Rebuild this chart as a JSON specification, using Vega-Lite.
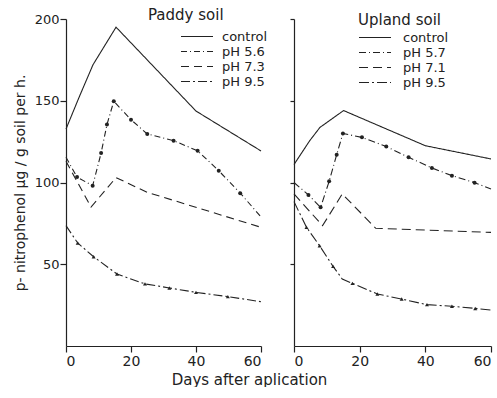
{
  "$schema": "https://vega.github.io/schema/vega-lite/v6.json",
  "autosize": {"type": "pad"},
  "padding": {"left": 13, "top": 8, "right": 0, "bottom": 0},
  "background": "white",
  "bounds": "flush",
  "spacing": 33,
  "config": {
    "view": {"stroke": null},
    "font": "DejaVu Sans",
    "axis": {
      "grid": false,
      "domainColor": "#222",
      "tickColor": "#222",
      "labelColor": "#222",
      "titleColor": "#222",
      "labelFont": "DejaVu Sans",
      "titleFont": "DejaVu Sans",
      "labelFontSize": 13,
      "titleFontWeight": "normal",
      "tickSize": 6,
      "domainWidth": 1.2,
      "tickWidth": 1.2
    },
    "legend": {
      "labelFont": "DejaVu Sans",
      "labelFontSize": 13,
      "labelColor": "#222",
      "clipHeight": 15,
      "symbolSize": 1024,
      "symbolStrokeWidth": 1.2,
      "symbolStrokeColor": "#222",
      "rowPadding": 0
    },
    "title": {"font": "DejaVu Sans", "fontSize": 15, "fontWeight": "normal", "color": "#222"}
  },
  "data": {
    "values": [
      {"soil": "Paddy", "series": "control", "day": 0, "value": 132.7},
      {"soil": "Paddy", "series": "control", "day": 4, "value": 152},
      {"soil": "Paddy", "series": "control", "day": 8.3, "value": 172},
      {"soil": "Paddy", "series": "control", "day": 15.4, "value": 195},
      {"soil": "Paddy", "series": "control", "day": 40, "value": 143.7},
      {"soil": "Paddy", "series": "control", "day": 60, "value": 119.3},
      {"soil": "Paddy", "series": "pH 5.6", "day": 0, "value": 115.4},
      {"soil": "Paddy", "series": "pH 5.6", "day": 3.4, "value": 103.3},
      {"soil": "Paddy", "series": "pH 5.6", "day": 8.2, "value": 98},
      {"soil": "Paddy", "series": "pH 5.6", "day": 10.8, "value": 118},
      {"soil": "Paddy", "series": "pH 5.6", "day": 12.6, "value": 135.4},
      {"soil": "Paddy", "series": "pH 5.6", "day": 14.7, "value": 149.7},
      {"soil": "Paddy", "series": "pH 5.6", "day": 20, "value": 138.4},
      {"soil": "Paddy", "series": "pH 5.6", "day": 25, "value": 129.7},
      {"soil": "Paddy", "series": "pH 5.6", "day": 33.1, "value": 125.6},
      {"soil": "Paddy", "series": "pH 5.6", "day": 40.5, "value": 119.4},
      {"soil": "Paddy", "series": "pH 5.6", "day": 47, "value": 107.2},
      {"soil": "Paddy", "series": "pH 5.6", "day": 53.6, "value": 93.5},
      {"soil": "Paddy", "series": "pH 5.6", "day": 60, "value": 79},
      {"soil": "Paddy", "series": "pH 7.3", "day": 0, "value": 113},
      {"soil": "Paddy", "series": "pH 7.3", "day": 7.7, "value": 85},
      {"soil": "Paddy", "series": "pH 7.3", "day": 15.4, "value": 103},
      {"soil": "Paddy", "series": "pH 7.3", "day": 25, "value": 94},
      {"soil": "Paddy", "series": "pH 7.3", "day": 60, "value": 72.6},
      {"soil": "Paddy", "series": "pH 9.5", "day": 0, "value": 73.6},
      {"soil": "Paddy", "series": "pH 9.5", "day": 3.6, "value": 63},
      {"soil": "Paddy", "series": "pH 9.5", "day": 8.5, "value": 54.6},
      {"soil": "Paddy", "series": "pH 9.5", "day": 15.7, "value": 44},
      {"soil": "Paddy", "series": "pH 9.5", "day": 24.3, "value": 38},
      {"soil": "Paddy", "series": "pH 9.5", "day": 31.8, "value": 35.5},
      {"soil": "Paddy", "series": "pH 9.5", "day": 40, "value": 32.8},
      {"soil": "Paddy", "series": "pH 9.5", "day": 49.8, "value": 30.2},
      {"soil": "Paddy", "series": "pH 9.5", "day": 60, "value": 27.1},
      {"soil": "Upland", "series": "control", "day": 0, "value": 111},
      {"soil": "Upland", "series": "control", "day": 4.8, "value": 125.6},
      {"soil": "Upland", "series": "control", "day": 7.9, "value": 133.7},
      {"soil": "Upland", "series": "control", "day": 15.1, "value": 144},
      {"soil": "Upland", "series": "control", "day": 40, "value": 122.5},
      {"soil": "Upland", "series": "control", "day": 60, "value": 114.4},
      {"soil": "Upland", "series": "pH 5.7", "day": 0, "value": 100},
      {"soil": "Upland", "series": "pH 5.7", "day": 4.4, "value": 92.4},
      {"soil": "Upland", "series": "pH 5.7", "day": 8.1, "value": 84.8},
      {"soil": "Upland", "series": "pH 5.7", "day": 10.7, "value": 100.7},
      {"soil": "Upland", "series": "pH 5.7", "day": 13, "value": 117},
      {"soil": "Upland", "series": "pH 5.7", "day": 14.9, "value": 130},
      {"soil": "Upland", "series": "pH 5.7", "day": 20.7, "value": 127.6},
      {"soil": "Upland", "series": "pH 5.7", "day": 28.1, "value": 122},
      {"soil": "Upland", "series": "pH 5.7", "day": 34.9, "value": 115.4},
      {"soil": "Upland", "series": "pH 5.7", "day": 42, "value": 108.9},
      {"soil": "Upland", "series": "pH 5.7", "day": 48.1, "value": 104.2},
      {"soil": "Upland", "series": "pH 5.7", "day": 55, "value": 99.9},
      {"soil": "Upland", "series": "pH 5.7", "day": 60, "value": 96},
      {"soil": "Upland", "series": "pH 7.1", "day": 0, "value": 93},
      {"soil": "Upland", "series": "pH 7.1", "day": 8.7, "value": 73.6},
      {"soil": "Upland", "series": "pH 7.1", "day": 14.7, "value": 93},
      {"soil": "Upland", "series": "pH 7.1", "day": 24.9, "value": 72},
      {"soil": "Upland", "series": "pH 7.1", "day": 60, "value": 69.5},
      {"soil": "Upland", "series": "pH 9.5", "day": 0, "value": 88.3},
      {"soil": "Upland", "series": "pH 9.5", "day": 3.8, "value": 72.6},
      {"soil": "Upland", "series": "pH 9.5", "day": 7.8, "value": 61.3},
      {"soil": "Upland", "series": "pH 9.5", "day": 11.9, "value": 48.7},
      {"soil": "Upland", "series": "pH 9.5", "day": 14.7, "value": 41},
      {"soil": "Upland", "series": "pH 9.5", "day": 17.8, "value": 38.3},
      {"soil": "Upland", "series": "pH 9.5", "day": 25.4, "value": 31.8},
      {"soil": "Upland", "series": "pH 9.5", "day": 32.8, "value": 28.7},
      {"soil": "Upland", "series": "pH 9.5", "day": 40.5, "value": 25.3},
      {"soil": "Upland", "series": "pH 9.5", "day": 48.1, "value": 24.3},
      {"soil": "Upland", "series": "pH 9.5", "day": 55.2, "value": 23},
      {"soil": "Upland", "series": "pH 9.5", "day": 60, "value": 22}
    ]
  },
  "resolve": {
    "scale": {"strokeDash": "independent", "shape": "independent", "x": "independent", "y": "independent"},
    "legend": {"strokeDash": "independent"}
  },
  "hconcat": [
    {
      "width": 195,
      "height": 327,
      "title": {"text": "Paddy soil", "anchor": "start", "frame": "group", "dx": 82, "offset": -10},
      "transform": [{"filter": "datum.soil == 'Paddy'"}],
      "layer": [
        {
          "mark": {"type": "line", "strokeWidth": 1.1, "color": "#222"},
          "encoding": {
            "x": {"field": "day", "type": "quantitative", "scale": {"domain": [0, 60], "nice": false},
              "axis": {"values": [0, 20, 40, 60], "title": "Days after aplication", "titleX": 183, "titleFontSize": 15, "titlePadding": 4, "labelFontSize": 14}},
            "y": {"field": "value", "type": "quantitative", "scale": {"domain": [0, 200], "nice": false},
              "axis": {"values": [50, 100, 150, 200], "title": "p- nitrophenol µg / g soil per h.", "titleFontSize": 14, "titlePadding": 7, "labelPadding": 1}},
            "strokeDash": {"field": "series", "type": "nominal",
              "scale": {"domain": ["control", "pH 5.6", "pH 7.3", "pH 9.5"], "range": [[1, 0], [6, 3, 1, 3], [8, 5], [9, 3, 2, 3]]},
              "legend": {"title": null, "orient": "none", "legendX": 114, "legendY": 10, "labelOffset": 8}}
          }
        },
        {
          "transform": [{"filter": "datum.day > 0 && datum.day < 60 && (datum.series == 'pH 5.6' || datum.series == 'pH 9.5')"}],
          "mark": {"type": "point", "filled": true, "color": "#222", "size": 16, "opacity": 1},
          "encoding": {
            "x": {"field": "day", "type": "quantitative"},
            "y": {"field": "value", "type": "quantitative"},
            "shape": {"field": "series", "type": "nominal", "scale": {"domain": ["pH 5.6", "pH 9.5"], "range": ["circle", "triangle-up"]}, "legend": null}
          }
        }
      ]
    },
    {
      "width": 197,
      "height": 327,
      "title": {"text": "Upland soil", "anchor": "start", "frame": "group", "dx": 64, "offset": -10},
      "transform": [{"filter": "datum.soil == 'Upland'"}],
      "layer": [
        {
          "mark": {"type": "line", "strokeWidth": 1.1, "color": "#222"},
          "encoding": {
            "x": {"field": "day", "type": "quantitative", "scale": {"domain": [0, 60], "nice": false},
              "axis": {"values": [0, 20, 40, 60], "title": null, "labelFontSize": 14}},
            "y": {"field": "value", "type": "quantitative", "scale": {"domain": [0, 200], "nice": false},
              "axis": {"values": [50, 100, 150, 200], "title": null, "labels": false, "tickSize": 4}},
            "strokeDash": {"field": "series", "type": "nominal",
              "scale": {"domain": ["control", "pH 5.7", "pH 7.1", "pH 9.5"], "range": [[1, 0], [7, 3, 1, 3], [9, 5], [10, 3, 2, 3]]},
              "legend": {"title": null, "orient": "none", "legendX": 64, "legendY": 11, "labelOffset": 11}}
          }
        },
        {
          "transform": [{"filter": "datum.day > 0 && datum.day < 60 && (datum.series == 'pH 5.7' || (datum.series == 'pH 9.5' && datum.day != 14.7))"}],
          "mark": {"type": "point", "filled": true, "color": "#222", "size": 16, "opacity": 1},
          "encoding": {
            "x": {"field": "day", "type": "quantitative"},
            "y": {"field": "value", "type": "quantitative"},
            "shape": {"field": "series", "type": "nominal", "scale": {"domain": ["pH 5.7", "pH 9.5"], "range": ["circle", "triangle-up"]}, "legend": null}
          }
        }
      ]
    }
  ]
}
